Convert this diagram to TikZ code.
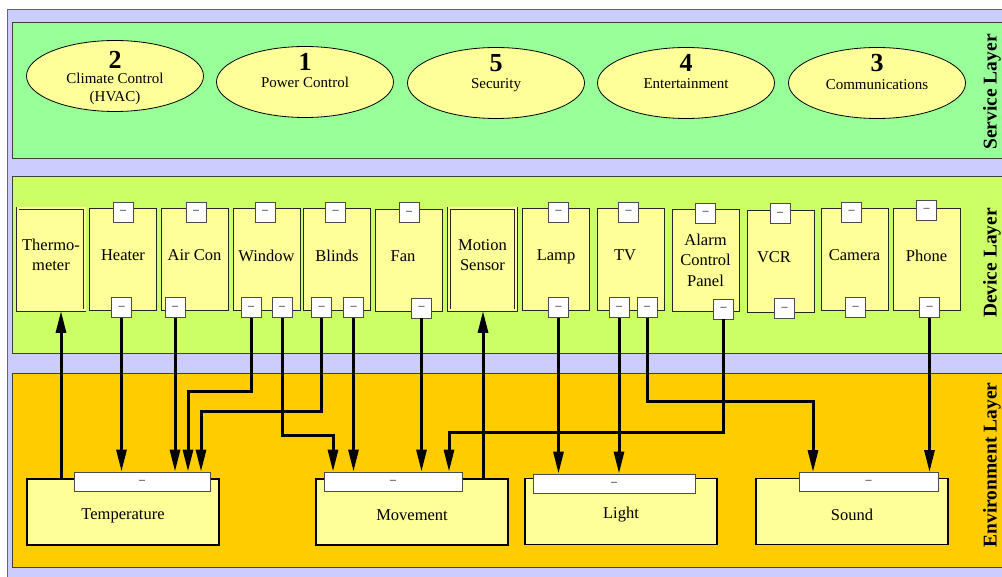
\documentclass[tikz,border=0pt]{standalone}
\usepackage{fontspec}
\setmainfont{Liberation Serif}
\usetikzlibrary{arrows.meta, shapes.geometric}
\definecolor{bgcol}{RGB}{204,204,255}
\definecolor{svccol}{RGB}{153,255,153}
\definecolor{devcol}{RGB}{204,255,102}
\definecolor{envcol}{RGB}{255,204,0}
\definecolor{boxcol}{RGB}{255,255,153}

\begin{document}
\begin{tikzpicture}[x=1pt, y=-1pt,
  layerbox/.style={draw=black!75, line width=0.8pt},
  svc/.style={ellipse, draw=black, line width=0.8pt, fill=boxcol, minimum width=177pt, minimum height=71pt, inner sep=0pt},
  svcnum/.style={font=\fontsize{26}{26}\selectfont\bfseries, inner sep=0pt},
  svctxt/.style={font=\fontsize{15}{18}\selectfont, align=center, inner sep=0pt},
  dev/.style={draw=black!85, line width=1pt, fill=boxcol, minimum width=67pt, minimum height=102pt, inner sep=1pt, align=center, text depth=9pt, font=\fontsize{16.5}{20.5}\selectfont},
  sensor/.style={dev, double=boxcol, double distance=2pt, line width=0.8pt},
  port/.style={draw=black!70, fill=white, line width=0.8pt, minimum size=20pt, inner sep=0pt, font=\fontsize{12}{12}\selectfont},
  env/.style={draw=black, line width=1.3pt, fill=boxcol, minimum width=192pt, minimum height=66pt, text height=18pt, font=\fontsize{16.5}{20}\selectfont},
  bar/.style={draw=black!70, fill=white, line width=0.8pt, minimum height=19pt, inner sep=0pt, font=\fontsize{12}{12}\selectfont},
  wire/.style={line width=3pt, -{Triangle[length=22pt, width=10pt]}},
  layertxt/.style={rotate=90, font=\fontsize{19.5}{20}\selectfont\bfseries}]

\useasboundingbox (0,0) rectangle (1002,577);

%% ── layers (background) ──────────────────────────────────────────
\fill[bgcol, draw=black!60, line width=0.8pt] (7,9) rectangle (1012,590);
\filldraw[svccol, layerbox] (12,22) rectangle (1012,158);
\filldraw[devcol, layerbox] (12,176) rectangle (1012,353);
\filldraw[envcol, layerbox] (12,373) rectangle (1012,567);

\node[layertxt] (lay-svc) at (992,92) {Service Layer};
\node[layertxt] (lay-dev) at (992,263) {Device Layer};
\node[layertxt] (lay-env) at (992,465) {Environment Layer};

%% ── service layer ────────────────────────────────────────────────
\node[svc] (hvac) at (115,76) {};
\node[svc] (power) at (305,82) {};
\node[svc] (security) at (496,83) {};
\node[svc] (entertain) at (686,83) {};
\node[svc] (comms) at (877,83) {};

\node[svcnum] (hvac-n) at (115,60) {2};
\node[svctxt] (hvac-t) at (115,89) {Climate Control\\(HVAC)};
\node[svcnum] (power-n) at (305,62) {1};
\node[svctxt] (power-t) at (305,82) {Power Control};
\node[svcnum] (security-n) at (496,63) {5};
\node[svctxt] (security-t) at (496,85) {Security};
\node[svcnum] (entertain-n) at (686,63) {4};
\node[svctxt] (entertain-t) at (686,84) {Entertainment};
\node[svcnum] (comms-n) at (877,63) {3};
\node[svctxt] (comms-t) at (877,85) {Communications};

%% ── device layer ─────────────────────────────────────────────────
\node[sensor] (thermo) at (51,259.5) {Thermo-\\meter};
\node[dev] (heater) at (123,260) {Heater};
\node[dev] (aircon) at (194.5,260) {Air Con};
\node[dev] (window) at (266.5,260) {Window};
\node[dev] (blinds) at (337,260) {Blinds};
\node[dev] (fan) at (409,260.5) {Fan\hspace{12pt}};
\node[sensor] (motion) at (482.5,259.5) {Motion\\Sensor};
\node[dev] (lamp) at (556,260) {Lamp};
\node[dev] (tv) at (631,260) {TV\hspace{12pt}};
\node[dev, text depth=2pt] (alarm) at (705.5,261) {Alarm\\Control\\Panel};
\node[dev] (vcr) at (781,261.5) {VCR\hspace{14pt}};
\node[dev] (camera) at (854.5,260) {Camera};
\node[dev] (phone) at (926.5,260) {Phone};

% ports on top
\node[port] (heater-in) at (123,212) {\textendash};
\node[port] (aircon-in) at (196,212) {\textendash};
\node[port] (window-in) at (265,212) {\textendash};
\node[port] (blinds-in) at (335.5,212) {\textendash};
\node[port] (fan-in) at (409,212.5) {\textendash};
\node[port] (lamp-in) at (558.5,212) {\textendash};
\node[port] (tv-in) at (628.5,212) {\textendash};
\node[port] (alarm-in) at (705.5,213) {\textendash};
\node[port] (vcr-in) at (780,213.5) {\textendash};
\node[port] (camera-in) at (851.5,212) {\textendash};
\node[port] (phone-in) at (926.5,210) {\textendash};

% ports at the bottom
\node[port] (heater-out) at (121.5,307.5) {\textendash};
\node[port] (aircon-out) at (175,307.5) {\textendash};
\node[port] (window-out1) at (251,307.5) {\textendash};
\node[port] (window-out2) at (282,307.5) {\textendash};
\node[port] (blinds-out1) at (321.5,307.5) {\textendash};
\node[port] (blinds-out2) at (353.5,307.5) {\textendash};
\node[port] (fan-out) at (421.5,308) {\textendash};
\node[port] (lamp-out) at (558.5,307.5) {\textendash};
\node[port] (tv-out1) at (619,307.5) {\textendash};
\node[port] (tv-out2) at (647,307.5) {\textendash};
\node[port] (alarm-out) at (723.5,309) {\textendash};
\node[port] (vcr-out) at (784.5,308.5) {\textendash};
\node[port] (camera-out) at (855.5,307.5) {\textendash};
\node[port] (phone-out) at (929.5,307.5) {\textendash};

%% ── environment layer ────────────────────────────────────────────
\node[env] (temp) at (123,512) {Temperature};
\node[env] (move) at (412,512) {Movement};
\node[env] (light) at (621,511.5) {Light};
\node[env] (sound) at (852,511.5) {Sound};

\node[bar, minimum width=136pt] (temp-in) at (142,481.5) {\textendash};
\node[bar, minimum width=138pt] (move-in) at (393,481.5) {\textendash};
\node[bar, minimum width=162pt] (light-in) at (614,483.5) {\textendash};
\node[bar, minimum width=139pt] (sound-in) at (868.5,482) {\textendash};

%% ── wires ────────────────────────────────────────────────────────
\draw[wire] (temp.north -| 61,0) -- (thermo.south -| 61,0);
\draw[wire] (heater-out.south) -- (heater-out.south |- temp-in.north);
\draw[wire] (aircon-out.south) -- (aircon-out.south |- temp-in.north);
\draw[wire] (window-out1.south) |- (188,392) -- (temp-in.north -| 188,0);
\draw[wire] (blinds-out1.south) |- (201,412) -- (temp-in.north -| 201,0);

\draw[wire] (window-out2.south) |- (333,435) -- (move-in.north -| 333,0);
\draw[wire] (blinds-out2.south) -- (blinds-out2.south |- move-in.north);
\draw[wire] (fan-out.south) -- (fan-out.south |- move-in.north);
\draw[wire] (move.north -| 483,0) -- (motion.south -| 483,0);
\draw[wire] (alarm-out.south) |- (449,432) -- (move-in.north -| 449,0);

\draw[wire] (lamp-out.south) -- (lamp-out.south |- light-in.north);
\draw[wire] (tv-out1.south) -- (tv-out1.south |- light-in.north);
\draw[wire] (tv-out2.south) |- (813,402) -- (sound-in.north -| 813,0);
\draw[wire] (phone-out.south) -- (phone-out.south |- sound-in.north);

\end{tikzpicture}
\end{document}
